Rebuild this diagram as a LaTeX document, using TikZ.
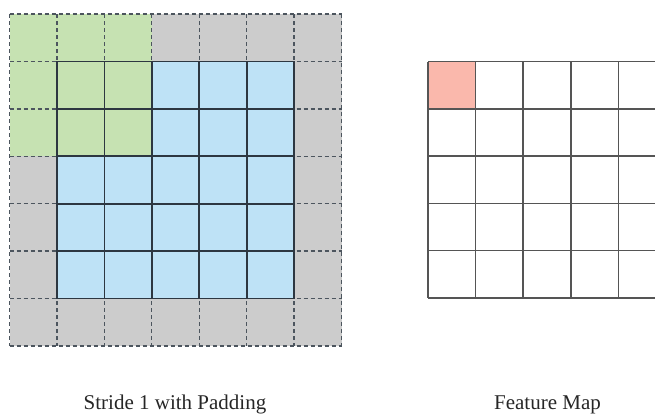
\documentclass[tikz,border=0pt]{standalone}
\usepackage{fontspec}
\setmainfont{Liberation Serif}
\definecolor{padgray}{RGB}{204,204,204}
\definecolor{cellblue}{RGB}{190,226,246}
\definecolor{cellgreen}{RGB}{198,226,178}
\definecolor{cellpink}{RGB}{250,184,172}
\definecolor{gridline}{RGB}{45,55,65}
\definecolor{fmline}{RGB}{85,85,85}
\tikzset{
  padline/.style={draw=gridline!85, line width=1.4pt, dash pattern=on 4pt off 3pt},
  innerline/.style={draw=gridline, line width=1.7pt},
  fmgrid/.style={draw=fmline, line width=1.5pt},
  caption/.style={font=\fontsize{21}{24}\selectfont, text=black!85, anchor=base, inner sep=0pt}
}
\begin{document}
\begin{tikzpicture}[x=1pt,y=-1pt]
\useasboundingbox (0,0) rectangle (655,416);
\clip (0,0) rectangle (655,416);
% padded input
\fill[padgray] (9.5,14) rectangle (341.5,346);
\fill[cellblue] (56.93,61.43) rectangle (294.07,298.57);
\fill[cellgreen] (9.5,14) rectangle (151.79,156.29);
\foreach \k in {0,...,7} {
  \draw[padline] ({9.5+\k*47.43},14) -- ({9.5+\k*47.43},346);
  \draw[padline] (9.5,{14+\k*47.43}) -- (341.5,{14+\k*47.43});
}
\foreach \k in {1,...,6} {
  \draw[innerline] ({9.5+\k*47.43},61.43) -- ({9.5+\k*47.43},298.57);
  \draw[innerline] (56.93,{14+\k*47.43}) -- (294.07,{14+\k*47.43});
}
% feature map
\fill[cellpink] (428,61.5) rectangle (475.6,108.8);
\foreach \k in {0,...,5} {
  \draw[fmgrid] ({428+\k*47.6},61.5) -- ({428+\k*47.6},298);
  \draw[fmgrid] (428,{61.5+\k*47.3}) -- (670,{61.5+\k*47.3});
}
\node[caption] (lbl1) at (175,409.5) {Stride 1 with Padding};
\node[caption] (lbl2) at (547.5,409.5) {Feature Map};
\end{tikzpicture}
\end{document}
